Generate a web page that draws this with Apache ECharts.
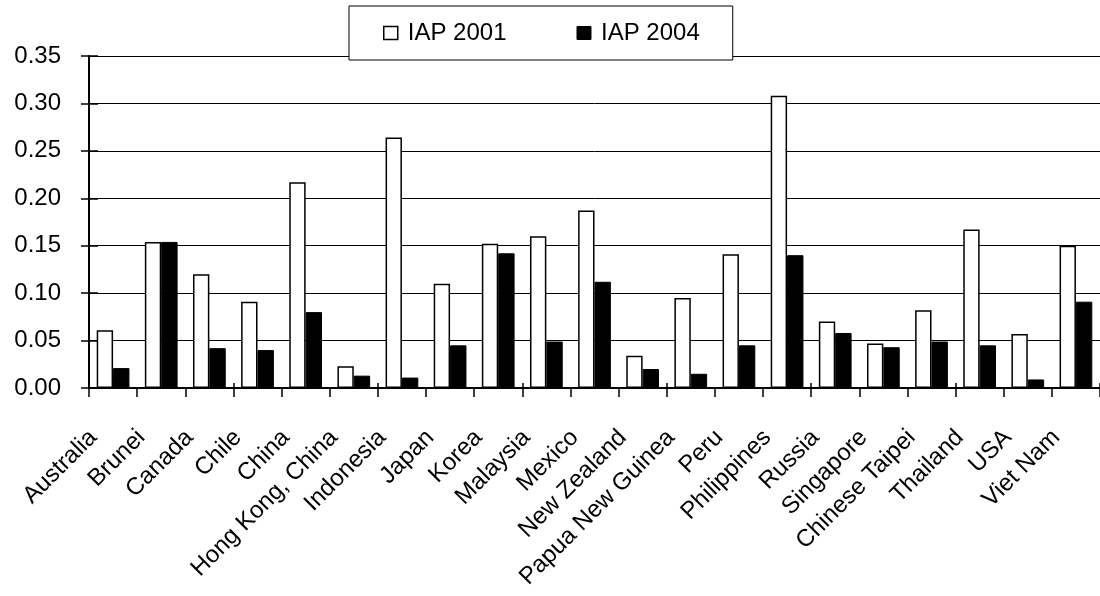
<!DOCTYPE html>
<html>
<head>
<meta charset="utf-8">
<script src="https://cdn.jsdelivr.net/npm/echarts@6/dist/echarts.min.js"></script>
<style>
html,body{margin:0;padding:0;background:#fff;}
#chart{width:1100px;height:596px;}
</style>
</head>
<body>
<div id="chart"></div>
<script>
var categories = ["Australia","Brunei","Canada","Chile","China","Hong Kong, China","Indonesia","Japan","Korea","Malaysia","Mexico","New Zealand","Papua New Guinea","Peru","Philippines","Russia","Singapore","Chinese Taipei","Thailand","USA","Viet Nam"];
var iap2001 = [0.061,0.154,0.120,0.091,0.217,0.023,0.264,0.110,0.152,0.160,0.187,0.034,0.095,0.141,0.308,0.070,0.047,0.082,0.167,0.057,0.150];
var iap2004 = [0.021,0.154,0.042,0.040,0.080,0.013,0.011,0.045,0.142,0.049,0.112,0.020,0.015,0.045,0.140,0.058,0.043,0.049,0.045,0.009,0.091];
var yTicks = {min:0, max:0.35, interval:0.05};

var FONT = '"Liberation Sans", Arial, sans-serif';
var chart = echarts.init(document.getElementById('chart'), null, {renderer:'canvas'});
chart.setOption({
  animation: false,
  backgroundColor: '#ffffff',
  grid: {left: 89, right: -11, top: 56, bottom: 208, containLabel: false},
  legend: {
    left: 349, top: 6,
    orient: 'horizontal',
    padding: [15, 33, 15, 34],
    backgroundColor: '#ffffff',
    borderColor: '#000000',
    borderWidth: 1,
    borderRadius: 0,
    itemWidth: 14, itemHeight: 13,
    itemGap: 70,
    icon: 'rect',
    textStyle: {fontFamily: FONT, fontSize: 24, color: '#000', padding: [0,0,0,5]},
    data: [
      {name: 'IAP 2001', itemStyle: {color: '#fff', borderColor: '#000', borderWidth: 1.5}},
      {name: 'IAP 2004', itemStyle: {color: '#000', borderColor: '#000', borderWidth: 1}}
    ]
  },
  xAxis: [{
    type: 'category',
    data: categories,
    boundaryGap: true,
    axisLine: {show: true, lineStyle: {color: '#000', width: 2}},
    axisTick: {show: true, inside: false, length: 9, lineStyle: {color: '#000', width: 1.5}},
    axisLabel: {
      interval: 0, rotate: 45, margin: 26,
      fontFamily: FONT, fontSize: 24, color: '#000',
      padding: [0, 28, 0, 0]
    },
    splitLine: {show: false}
  }, {
    type: 'category',
    data: categories,
    boundaryGap: true,
    position: 'bottom',
    axisLine: {show: false},
    axisTick: {show: true, inside: true, length: 5, lineStyle: {color: '#000', width: 1.5}},
    axisLabel: {show: false},
    splitLine: {show: false}
  }],
  yAxis: [{
    type: 'value',
    min: yTicks.min, max: yTicks.max, interval: yTicks.interval,
    axisLine: {show: true, lineStyle: {color: '#000', width: 2}},
    axisTick: {show: true, inside: false, length: 8, lineStyle: {color: '#000', width: 1.5}},
    axisLabel: {
      margin: 28, fontFamily: FONT, fontSize: 24, color: '#000',
      formatter: function(v){ return v.toFixed(2); }
    },
    splitLine: {show: true, lineStyle: {color: '#000', width: 1}}
  }, {
    type: 'value',
    min: yTicks.min, max: yTicks.max, interval: yTicks.interval,
    position: 'left',
    axisLine: {show: false},
    axisTick: {show: true, inside: true, length: 9, lineStyle: {color: '#000', width: 1.5}},
    axisLabel: {show: false},
    splitLine: {show: false}
  }],
  series: [{
    name: 'IAP 2001',
    type: 'bar',
    data: iap2001,
    barGap: '0%',
    barCategoryGap: '32%',
    itemStyle: {color: '#ffffff', borderColor: '#000', borderWidth: 1.5},
    z: 3
  }, {
    name: 'IAP 2004',
    type: 'bar',
    data: iap2004,
    barGap: '0%',
    barCategoryGap: '32%',
    itemStyle: {color: '#000000', borderColor: '#000', borderWidth: 1},
    z: 3
  }]
});
</script>
</body>
</html>
